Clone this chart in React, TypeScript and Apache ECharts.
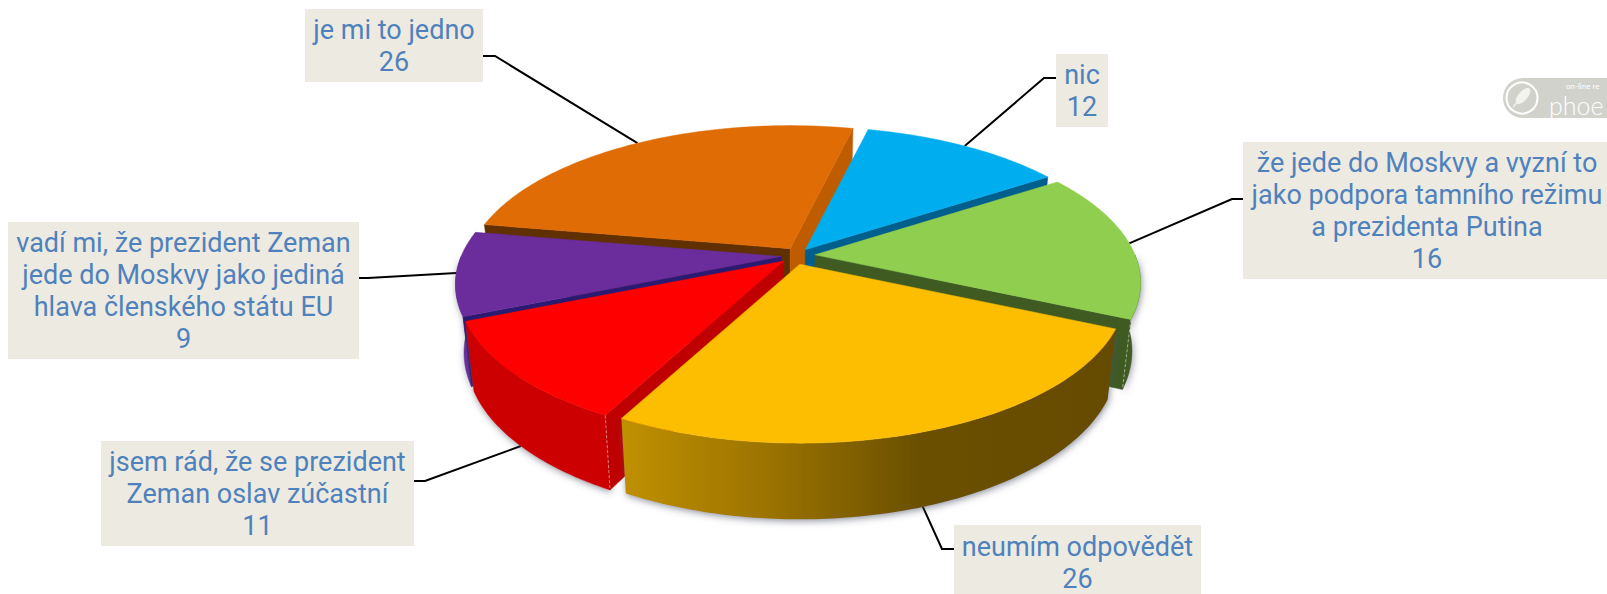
import React, { useEffect, useRef } from "react";
import * as echarts from "echarts";

// ---- data (clockwise, starting at the first slice drawn from START_ANGLE)
const categories = [
  "že jede do Moskvy a vyzní to\njako podpora tamního režimu\na prezidenta Putina",
  "neumím odpovědět",
  "jsem rád, že se prezident\nZeman oslav zúčastní",
  "vadí mi, že prezident Zeman\njede do Moskvy jako jediná\nhlava členského státu EU",
  "je mi to jedno",
  "nic",
];
const values = [16, 26, 11, 9, 26, 12];

// ---- styling
const topColors = ["#8fce4f", "#fdbd00", "#ff0000", "#6a2d9b", "#e06c06", "#00aeef"];
const startWallColors = ["", "", "#bf0000", "#2b1a72", "#613000", ""];
const endWallColors = ["#3f5b22", "", "", "", "#c05c00", "#005f8c"];
const rimColors: any[] = [
  "#3f5b22",
  new echarts.graphic.LinearGradient(0, 0, 1, 0, [
    { offset: 0, color: "#c09000" },
    { offset: 0.3, color: "#9b7300" },
    { offset: 0.6, color: "#6b5000" },
    { offset: 1, color: "#654b00" },
  ]),
  "#cc0000",
  "#6a2d9b",
  "",
  "",
];
const drawOrder = [4, 5, 3, 0, 2, 1];

// ---- layout: label boxes [x0, y0, x1, y1] and leader [y at box, elbow x]
const boxes = [
  [1243, 142, 1611, 279],
  [954, 525, 1201, 600],
  [101, 441, 414, 546],
  [8, 222, 359, 359],
  [305, 9, 483, 82],
  [1056, 54, 1108, 127],
];
const leaderY = [199, 549, 481, 278, 56, 78];
const leaderElbow = [1232, 942, 425, 368, 495, 1044];
const leaderSide = [0, 0, 1, 1, 1, 0]; // 1: leader leaves from the box's right edge
const sliceNudge = [
  [0, 0],
  [-3, 1],
  [0, 0],
  [2, 0],
  [3, 0],
  [-2, 1],
];

// ---- 3D pie projection
const START_ANGLE = -33.4;
const CX = 797;
const CY = 255.5;
const RX = 320;
const RY = 145.8;
const PERSP = 0.185;
const EXPLODE = 18;
const FONT = "Roboto";
const TEXT_COLOR = "#4f81bd";
const BOX_COLOR = "#edebe1";

const total = values.reduce((a, b) => a + b, 0);
const rad = (d: number) => (d * Math.PI) / 180;

function sliceAngles(i: number) {
  let acc = 0;
  for (let k = 0; k < i; k++) acc += values[k];
  const a0 = START_ANGLE + (acc / total) * 360;
  const a1 = a0 + (values[i] / total) * 360;
  return [a0, a1];
}
function apex(i: number) {
  const [a0, a1] = sliceAngles(i);
  const m = rad((a0 + a1) / 2);
  return [
    CX + EXPLODE * Math.cos(m) + sliceNudge[i][0],
    CY + (EXPLODE * Math.sin(m) * RY) / RX + sliceNudge[i][1],
  ];
}
function rimPoint(i: number, deg: number) {
  const [ax, ay] = apex(i);
  const X = Math.cos(rad(deg));
  const Y = Math.sin(rad(deg));
  const f = 1 / (1 - PERSP * Y);
  return [ax + RX * X * f, ay + RY * Y * f];
}
function drop(p: number[]) {
  return [CX + (p[0] - CX) * 0.975, p[1] + 70 + 0.05 * (p[1] - 320)];
}
function arc(i: number, from: number, to: number) {
  const pts: number[][] = [];
  const n = Math.max(2, Math.ceil(Math.abs(to - from)));
  for (let k = 0; k <= n; k++) pts.push(rimPoint(i, from + ((to - from) * k) / n));
  return pts;
}

const poly = (points: number[][], fill: any, extra: any = {}) => ({
  type: "polygon",
  silent: true,
  shape: { points },
  style: { fill, stroke: fill instanceof Object ? undefined : fill, lineWidth: 0.5, ...extra },
});
const dashedEdge = (p: number[]) => {
  const q = drop(p);
  return {
    type: "line",
    silent: true,
    shape: { x1: p[0], y1: p[1], x2: q[0], y2: q[1] },
    style: { stroke: "rgba(255,255,255,0.6)", lineWidth: 0.8, lineDash: [3, 2] },
  };
};

function renderSlice(_p: any, api: any) {
  const i = api.value(1);
  const [a0, a1] = sliceAngles(i);
  const ap = apex(i);
  const children: any[] = [];
  const shadow = { shadowBlur: 7, shadowColor: "rgba(70,80,100,0.6)", shadowOffsetY: 2, shadowOffsetX: 1 };

  // outer rim: only the part that faces the viewer
  const r0 = Math.max(a0, 0);
  const r1 = Math.min(a1, 180);
  if (rimColors[i] && r1 > r0) {
    const top = arc(i, r0, r1);
    const bottom = top.map(drop).reverse();
    children.push(poly(top.concat(bottom), rimColors[i], shadow));
  }
  // radial walls: only the ones whose outward normal points towards the viewer
  if (startWallColors[i]) {
    const e = rimPoint(i, a0);
    children.push(poly([ap, e, drop(e), drop(ap)], startWallColors[i]));
    if (i === 2) children.push(dashedEdge(e));
  }
  if (endWallColors[i]) {
    const e = rimPoint(i, a1);
    children.push(poly([ap, e, drop(e), drop(ap)], endWallColors[i]));
    if (i === 0) children.push(dashedEdge(e));
  }
  // top face
  children.push(poly([ap, ...arc(i, a0, a1)], topColors[i]));
  return { type: "group", children };
}

function renderLeader(_p: any, api: any) {
  const i = api.value(0);
  const [a0, a1] = sliceAngles(i);
  const mid = (a0 + a1) / 2;
  let end = rimPoint(i, mid);
  if (Math.sin(rad(mid)) > 0.3) end = drop(end);
  const b = boxes[i];
  const start = leaderSide[i] ? b[2] : b[0];
  return {
    type: "polyline",
    silent: true,
    shape: { points: [[start, leaderY[i]], [leaderElbow[i], leaderY[i]], end] },
    style: { stroke: "#000", lineWidth: 2, fill: "none" },
  };
}

function renderBox(_p: any, api: any) {
  const i = api.value(0);
  const [x0, y0, x1, y1] = boxes[i];
  return {
    type: "group",
    children: [
      {
        type: "rect",
        silent: true,
        shape: { x: x0, y: y0, width: x1 - x0, height: y1 - y0 },
        style: { fill: BOX_COLOR },
      },
      {
        type: "text",
        silent: true,
        style: {
          text: `${categories[i]}\n${values[i]}`,
          x: (x0 + x1) / 2,
          y: (y0 + y1) / 2,
          align: "center",
          verticalAlign: "middle",
          fontFamily: FONT,
          fontSize: 27,
          lineHeight: 32,
          fill: TEXT_COLOR,
        },
      },
    ],
  };
}

export default function App() {
  const ref = useRef<HTMLDivElement>(null);
  useEffect(() => {
    const chart = echarts.init(ref.current!, undefined, { renderer: "svg" });
    chart.setOption({
      animation: false,
      backgroundColor: "#fff",
      series: [
        {
          type: "custom",
          coordinateSystem: "none",
          z: 1,
          silent: true,
          data: values.map((_, i) => [i]),
          renderItem: renderLeader,
        },
        {
          type: "custom",
          coordinateSystem: "none",
          z: 2,
          silent: true,
          data: drawOrder.map((i) => [values[i], i]),
          renderItem: renderSlice,
        },
        {
          type: "custom",
          coordinateSystem: "none",
          z: 3,
          silent: true,
          data: values.map((_, i) => [i]),
          renderItem: renderBox,
        },
      ],
      graphic: [
        {
          type: "group",
          silent: true,
          children: [
            { type: "rect", shape: { x: 1503, y: 78, width: 140, height: 40, r: 20 }, style: { fill: "#d2d2cd" } },
            { type: "circle", shape: { cx: 1522, cy: 98, r: 15.5 }, style: { fill: "none", stroke: "#fff", lineWidth: 2 } },
            { type: "ellipse", x: 1523, y: 96, rotation: 0.85, shape: { cx: 0, cy: 0, rx: 10, ry: 4.5 }, style: { fill: "#f2f2ef" } },
            { type: "line", shape: { x1: 1513, y1: 107, x2: 1520, y2: 99 }, style: { stroke: "#f2f2ef", lineWidth: 1.2 } },
            { type: "text", x: 1566, y: 86, style: { text: "on-line re", fontFamily: "Lato", fontSize: 8, fill: "#fff", verticalAlign: "middle" } },
            { type: "text", x: 1549, y: 105, style: { text: "phoe", fontFamily: "Lato", fontSize: 25, fontWeight: 300, fill: "#fff", verticalAlign: "middle" } },
          ],
        },
      ],
    });
    return () => chart.dispose();
  }, []);
  return <div ref={ref} style={{ position: "fixed", left: 0, top: 0, width: 1607, height: 594 }} />;
}
